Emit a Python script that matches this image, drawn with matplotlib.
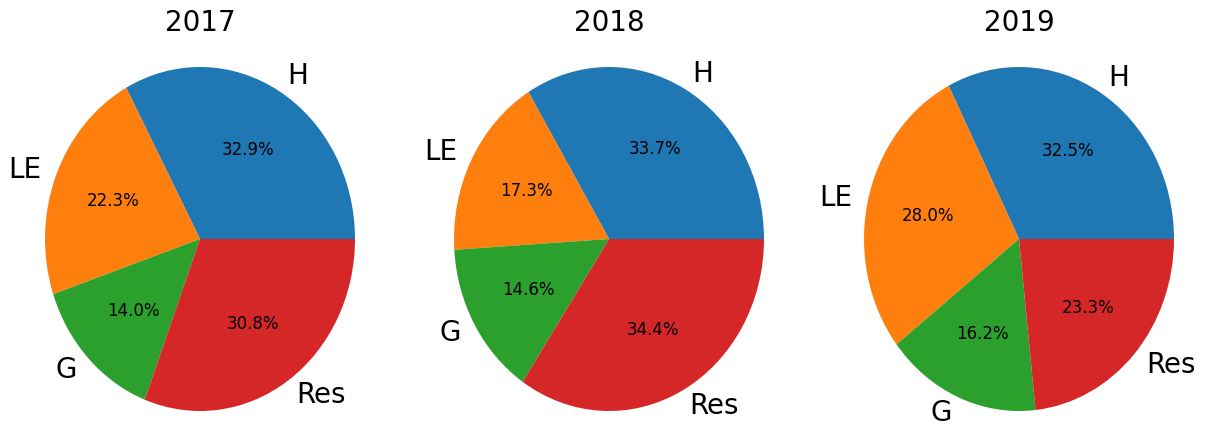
import numpy as np
import matplotlib.pyplot as plt

# datos
years = ['2017', '2018', '2019']
labels = ['H', 'LE', 'G', 'Res']
v2017 = [32.9, 22.3, 14.0, 30.8]
v2018 = [33.7, 17.3, 14.6, 34.4]
v2019 = [32.5, 28.0, 16.2, 23.3]
values = [v2017, v2018, v2019]

W, Hh = 1205, 425
fig = plt.figure(figsize=(W / 100, Hh / 100), dpi=100)

centers_x = [200, 609, 1019]
cy = 239
rx, ry = 155, 172
xl, yl = 1.25, 1.16

for cx, yr, vals in zip(centers_x, years, values):
    aw = 2 * xl * rx
    ah = 2 * yl * ry
    left = (cx - aw / 2) / W
    bottom = (Hh - cy - ah / 2) / Hh
    ax = fig.add_axes([left, bottom, aw / W, ah / Hh])
    ax.pie(vals, labels=labels, autopct='%1.1f%%',
           textprops={'fontsize': 12})
    for t in ax.texts:
        if t.get_text() in labels:
            t.set_fontsize(20)
    ax.set_aspect('auto')
    ax.set_xlim(-xl, xl)
    ax.set_ylim(-yl, yl)
    ax.set_title(yr, fontsize=20)

fig.savefig('out.png', dpi=100)
